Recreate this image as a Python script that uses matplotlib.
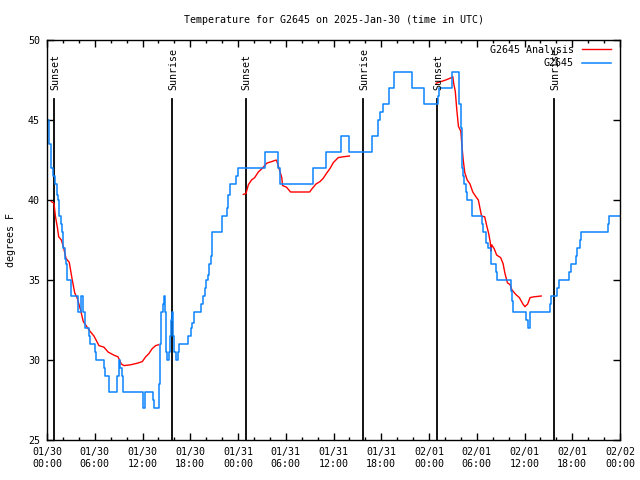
import matplotlib
matplotlib.use('Agg')
import matplotlib.pyplot as plt
from matplotlib.ticker import MultipleLocator

plt.rcParams['font.family'] = ['DejaVu Sans Mono']
fs = 7.2

# hours since 2025-01-30 00:00 UTC
station_hours = [0.0, 0.2, 0.45, 0.55, 0.8, 0.96, 1.2, 1.38, 1.55, 1.72, 1.85, 2.05, 2.25, 2.4,
                 2.56, 2.97, 3.95, 4.3, 4.5, 4.82, 5.25, 5.45, 5.99, 6.16, 7.16, 7.33, 7.83,
                 8.84, 9.0, 9.2, 9.4, 9.6, 12.02, 12.3, 13.36, 13.45, 14.03, 14.15, 14.35,
                 14.55, 14.7, 14.8, 14.9, 15.0, 15.1, 15.3, 15.45, 15.6, 15.75, 15.85, 16.0,
                 16.2, 16.4, 16.6, 17.76, 18.05, 18.22, 18.47, 19.31, 19.55, 19.8, 19.95,
                 20.2, 20.35, 20.55, 20.69, 21.95, 22.6, 22.8, 23.0, 23.8, 24.0, 27.4, 29.07,
                 29.3, 33.4, 35.1, 37.0, 37.95, 40.9, 41.6, 41.9, 42.2, 42.95, 43.6, 45.85,
                 47.4, 49.1, 49.3, 50.85, 51.8, 51.98, 52.1, 52.2, 52.3, 52.44, 52.65, 52.8,
                 53.4, 54.6, 54.8, 55.1, 55.4, 55.85, 56.4, 56.6, 58.25, 58.4, 58.6, 60.25,
                 60.4, 60.65, 63.15, 63.3, 64.1, 64.3, 65.65, 65.85, 66.45, 66.6, 66.95, 67.1,
                 70.45, 70.6, 72.0]
station_temp = [45, 43.5, 42.5, 42, 41.5, 41, 40.3, 40, 39, 38.5, 38, 37, 36.3, 36,
                35, 34, 33, 34, 33, 32, 31.5, 31, 30.5, 30, 29.5, 29, 28,
                29, 30, 29.5, 29, 28, 27, 28, 27.5, 27, 28.5, 31, 33,
                33.5, 34, 33, 31, 30.5, 30, 30.5, 31.5, 32.5, 33, 31.5, 30.5,
                30, 30.5, 31, 31.5, 32, 32.3, 33, 33.5, 34, 34.5, 35,
                35.3, 36, 36.5, 38, 39, 39.5, 40.3, 41, 41.5, 42, 43, 42,
                41, 42, 43, 44, 43, 44, 45, 45.5, 46, 47, 48, 47,
                46, 46.5, 47, 48, 46, 44.5, 43, 42, 41.5, 41, 40.5, 40,
                39, 38.5, 38, 37.3, 37, 36, 35.5, 35, 34.3, 33.7, 33, 32.5,
                32, 33, 33.5, 34, 34.5, 35, 35.5, 36, 36.5, 37, 37.5, 38,
                38.5, 39, 39]

anl1_hours = [0.54, 0.88, 1.05, 1.3, 1.47, 1.8, 2.05, 2.39, 2.8, 3.14, 3.48, 3.81, 4.23, 4.56,
              4.98, 5.4, 5.9, 6.53, 7.16, 7.67, 8.42, 8.92, 9.34, 9.68, 10.5, 11.35, 11.97,
              12.4, 12.8, 13.2, 13.65, 14.0]
anl1_temp = [39.9, 39.8, 39.0, 38.3, 37.7, 37.5, 37.1, 36.35, 36.1, 35.1, 34.2, 33.85, 33.1, 32.4,
             32.1, 31.8, 31.5, 30.9, 30.8, 30.5, 30.3, 30.2, 29.75, 29.65, 29.7, 29.8, 29.9,
             30.2, 30.4, 30.7, 30.9, 30.95]
anl2_hours = [24.67, 25.0, 25.3, 25.7, 26.1, 26.55, 27.1, 27.6, 28.23, 28.8, 28.9, 29.2, 29.5,
              29.6, 30.1, 30.6, 33.0, 33.3, 33.8, 34.3, 34.7, 35.1, 35.6, 36.0, 36.6, 37.2, 38.0]
anl2_temp = [40.35, 40.4, 40.95, 41.25, 41.4, 41.75, 42.0, 42.3, 42.4, 42.5, 42.4, 41.9, 41.4,
             40.9, 40.8, 40.5, 40.5, 40.7, 41.0, 41.15, 41.35, 41.65, 42.0, 42.35, 42.65, 42.7, 42.75]
anl3_hours = [48.9, 49.5, 50.1, 50.6, 51.0, 51.1, 51.3, 51.5, 51.7, 52.0, 52.15, 52.3, 52.5, 52.8,
              53.15, 53.5, 53.9, 54.2, 54.4, 54.6, 55.0, 55.25, 55.5, 55.7, 55.78, 55.88, 56.2,
              56.5, 57.0, 57.3, 57.55, 57.85, 58.2, 58.4, 58.9, 59.35, 59.8, 60.05, 60.4, 60.7,
              61.2, 62.1]
anl3_temp = [47.3, 47.4, 47.5, 47.6, 47.7, 47.3, 46.8, 45.6, 44.6, 44.3, 43.3, 42.5, 41.7, 41.25,
             41.0, 40.5, 40.2, 40.0, 39.5, 39.0, 38.95, 38.4, 37.9, 37.35, 36.8, 37.2, 36.95,
             36.56, 36.4, 36.04, 35.4, 34.83, 34.7, 34.4, 34.1, 33.9, 33.5, 33.33, 33.5, 33.9,
             33.95, 34.0]

sun_hours = [0.92, 15.75, 25.0, 39.73, 49.05, 63.72]
sun_labels = ['Sunset', 'Sunrise', 'Sunset', 'Sunrise', 'Sunset', 'Sunrise']

tick_hours = [0, 6, 12, 18, 24, 30, 36, 42, 48, 54, 60, 66, 72]
tick_labels = ['01/30\n00:00', '01/30\n06:00', '01/30\n12:00', '01/30\n18:00',
               '01/31\n00:00', '01/31\n06:00', '01/31\n12:00', '01/31\n18:00',
               '02/01\n00:00', '02/01\n06:00', '02/01\n12:00', '02/01\n18:00',
               '02/02\n00:00']

fig = plt.figure(figsize=(6.4, 4.8), dpi=100)
ax = fig.add_axes([47/640, 40/480, 573/640, 400/480])

for h, lab in zip(sun_hours, sun_labels):
    ax.axvline(h, ymin=0, ymax=0.853, color='black', lw=1.3)
    ax.text(h + 0.1, 46.85, lab, rotation=90, ha='center', va='bottom', fontsize=fs)

ax.plot(anl1_hours, anl1_temp, color='red', lw=1.0, label='G2645 Analysis')
ax.plot(anl2_hours, anl2_temp, color='red', lw=1.0)
ax.plot(anl3_hours, anl3_temp, color='red', lw=1.0)
ax.step(station_hours, station_temp, where='post', color='#0a84ff', lw=1.1, label='G2645')

ax.set_xlim(0, 72)
ax.set_ylim(25, 50)
ax.set_xticks(tick_hours)
ax.set_xticklabels(tick_labels)
ax.xaxis.set_minor_locator(MultipleLocator(2))
ax.set_yticks([25, 30, 35, 40, 45, 50])
ax.tick_params(which='both', direction='in', top=True, right=True, labelsize=fs, width=1)
ax.tick_params(which='major', length=5, pad=5)
ax.tick_params(which='minor', length=2.5)
for s in ax.spines.values():
    s.set_linewidth(1)

ax.set_ylabel('degrees F', fontsize=fs, labelpad=9)
ax.set_title('Temperature for G2645 on 2025-Jan-30 (time in UTC)', fontsize=fs, pad=12)

ax.legend(loc='upper right', frameon=False, markerfirst=False, fontsize=fs,
          handlelength=2.9, handletextpad=0.8, labelspacing=0.35,
          borderaxespad=0.1, bbox_to_anchor=(0.993, 1.0))

plt.savefig('out.png', dpi=100)
